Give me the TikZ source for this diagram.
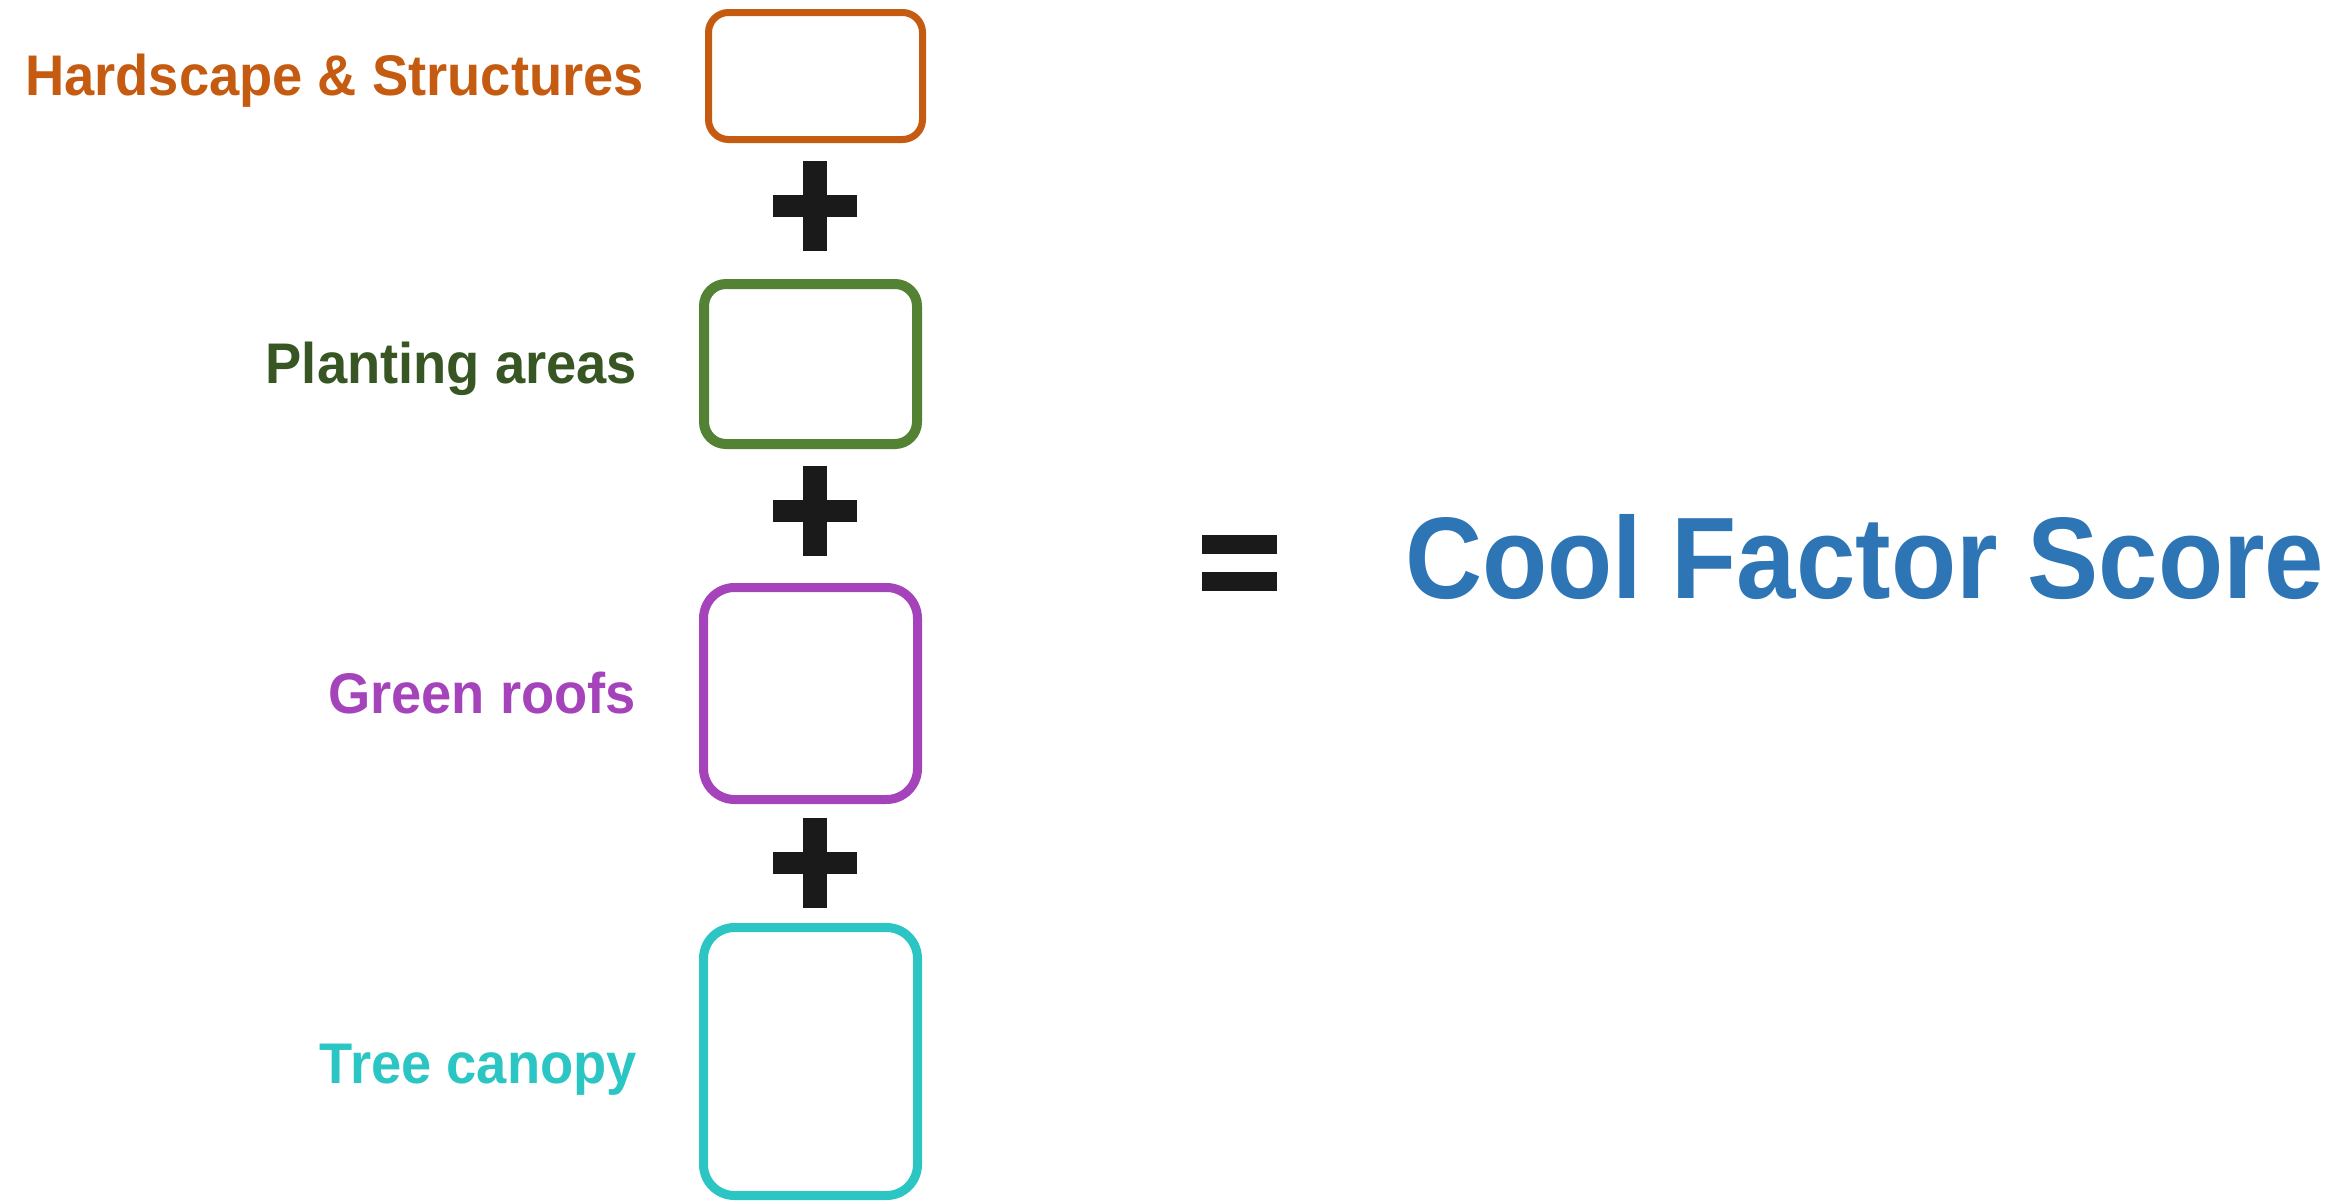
\documentclass[tikz,border=0pt]{standalone}
\usepackage{fontspec}
\newfontfamily\lblfont[FakeStretch=0.948]{Liberation Sans Bold}
\newfontfamily\ttlfont[FakeStretch=0.92]{Liberation Sans Bold}
\definecolor{corange}{HTML}{C55A11}
\definecolor{cgreenbox}{HTML}{548235}
\definecolor{cgreentxt}{HTML}{375623}
\definecolor{cpurple}{HTML}{A544BA}
\definecolor{cteal}{HTML}{2BC6C3}
\definecolor{cblue}{HTML}{2E75B6}
\definecolor{cblack}{HTML}{1A1A1A}
\tikzset{
  valbox/.style={draw, fill=none, inner sep=0pt, outer sep=0pt, rectangle},
  lbl/.style={inner sep=0pt, outer sep=0pt, anchor=base east, font=\lblfont\fontsize{57.3}{60}\selectfont},
  sign/.style={fill=cblack}
}
\begin{document}
\begin{tikzpicture}[x=1pt,y=-1pt]
\useasboundingbox (0,0) rectangle (2343,1200);
% boxes
\node[valbox, draw=corange, line width=7pt, rounded corners=20pt, minimum width=214pt, minimum height=127pt] (b1) at (815.5,76) {};
\node[valbox, draw=cgreenbox, line width=10pt, rounded corners=22pt, minimum width=213pt, minimum height=160pt] (b2) at (810.5,364) {};
\node[valbox, draw=cpurple, line width=9pt, rounded corners=31pt, minimum width=214pt, minimum height=212pt] (b3) at (810.5,693.5) {};
\node[valbox, draw=cteal, line width=9pt, rounded corners=31pt, minimum width=214pt, minimum height=268pt] (b4) at (810.5,1061.5) {};
% labels
\node[lbl, text=corange] (l1) at (644,95) {Hardscape \& Structures};
\node[lbl, text=cgreentxt] (l2) at (637,383) {Planting areas};
\node[lbl, text=cpurple] (l3) at (636,713) {Green roofs};
\node[lbl, text=cteal] (l4) at (637,1083) {Tree canopy};
% plus signs
\foreach \cy in {206,511,863}{
  \fill[sign] (803,\cy-45) rectangle (827,\cy+45);
  \fill[sign] (773,\cy-11) rectangle (857,\cy+11);
}
% equals sign
\fill[sign] (1202,535) rectangle (1277,554);
\fill[sign] (1202,572) rectangle (1277,591);
% result
\node[inner sep=0pt, outer sep=0pt, anchor=base west, text=cblue, font=\ttlfont\fontsize{116}{120}\selectfont] (res) at (1405,598) {Cool Factor Score};
\end{tikzpicture}
\end{document}
